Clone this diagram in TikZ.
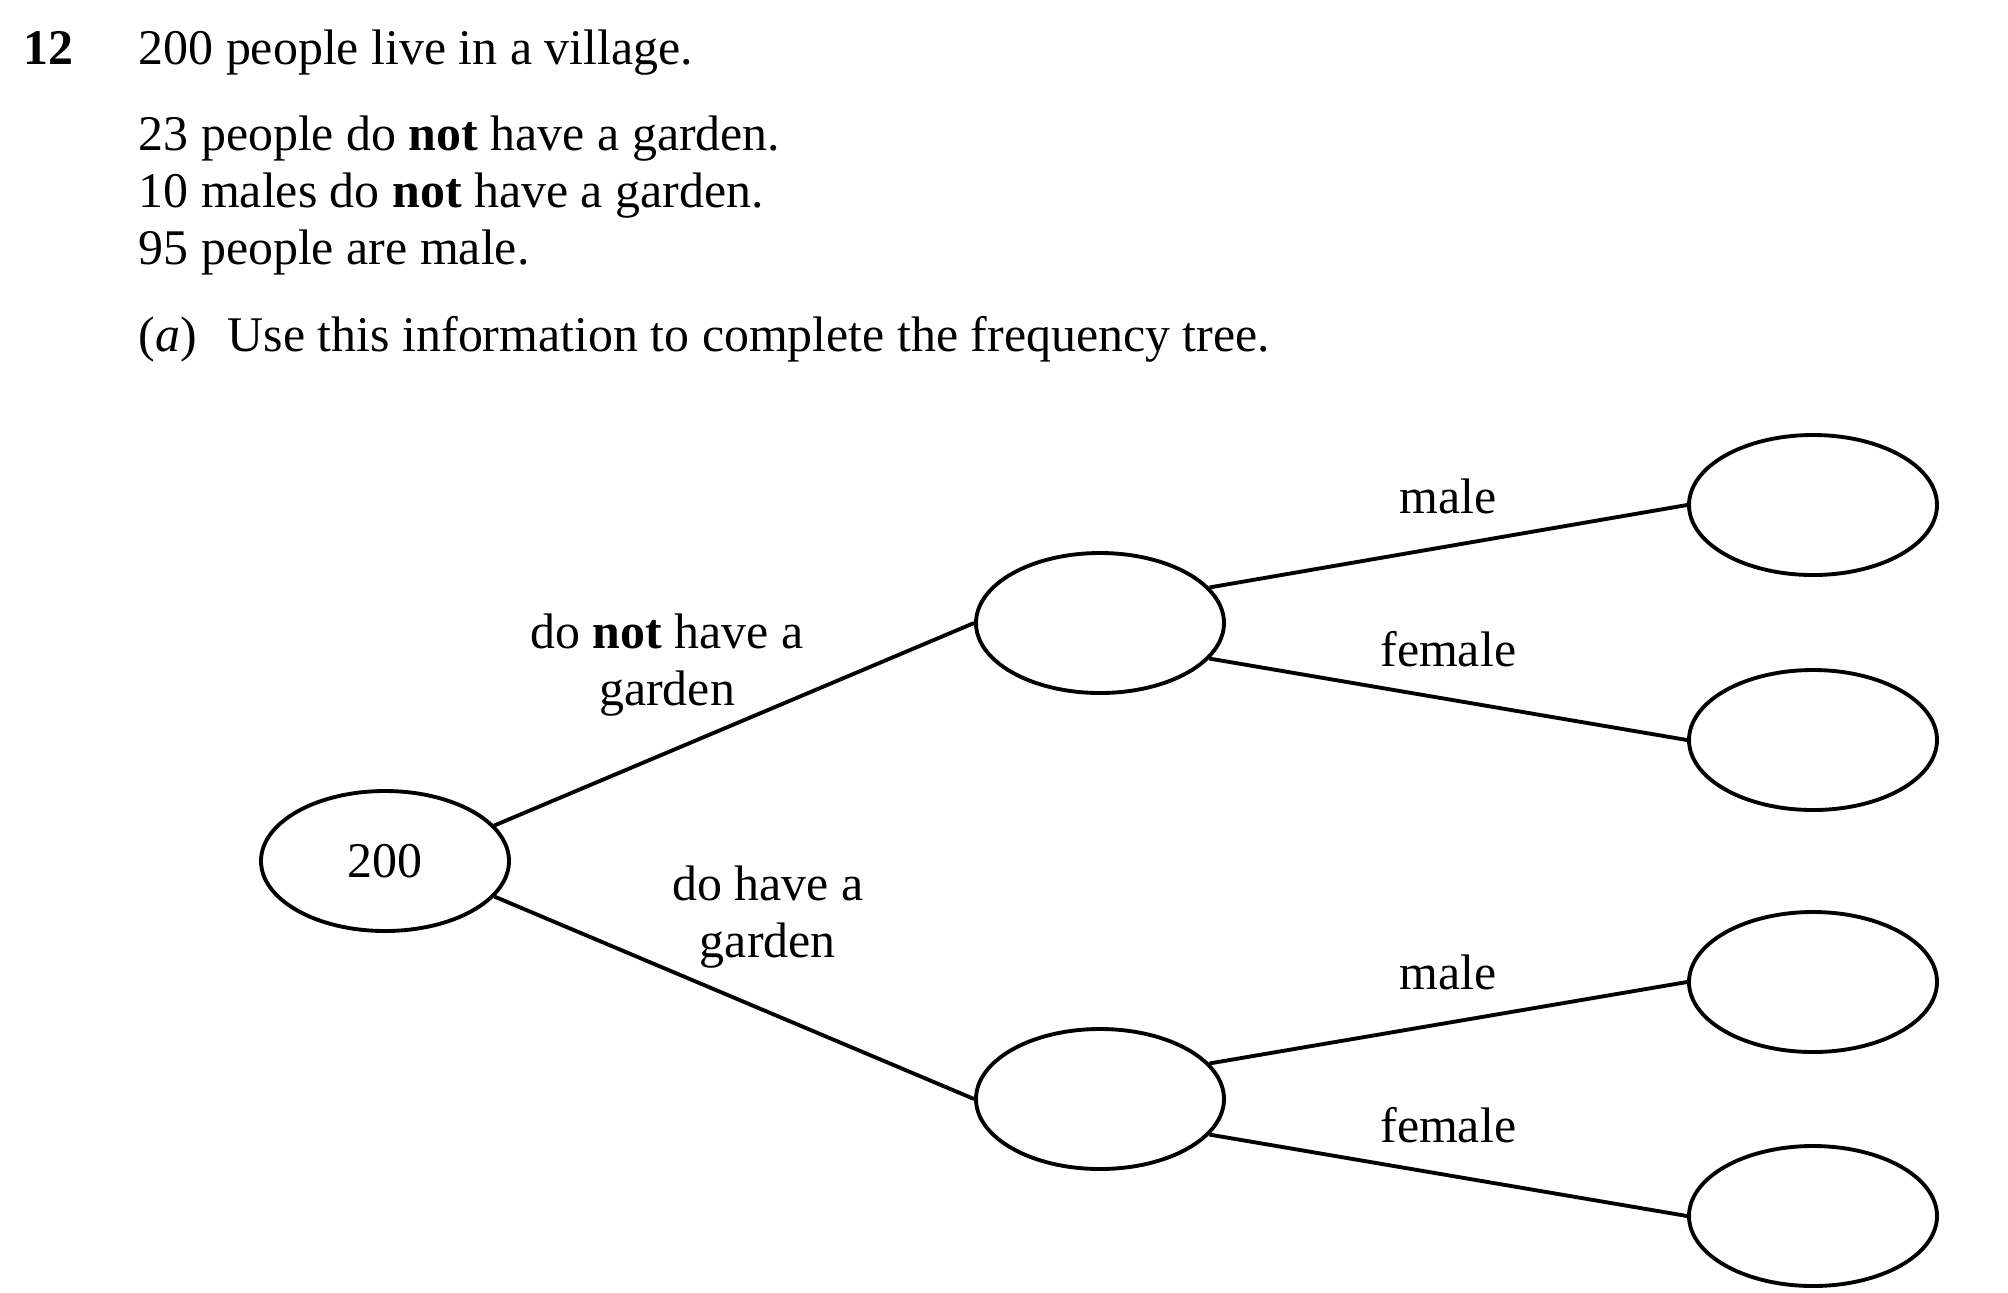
\documentclass[tikz,border=0pt]{standalone}
\usepackage{fontspec}
\setmainfont{Liberation Serif}
\usetikzlibrary{positioning,shapes.geometric}
\tikzset{
  oval/.style={draw,ellipse,line width=1.1pt,minimum width=2.48cm,minimum height=1.40cm},
  branch/.style={line width=1.1pt},
  line/.style={anchor=base west,inner sep=0pt}
}
\begin{document}
\fontsize{14.2}{16.2}\selectfont
\begin{tikzpicture}
      \useasboundingbox (0,0) rectangle (20.08,-12.92);
      %% Question text
      \node[line] (num) at (0.23,-0.64) {\textbf{12}};
      \node[line] (t1) at (1.38,-0.64) {200 people live in a village.};
      \node[line] (t2) at (1.38,-1.50) {23 people do \textbf{not} have a garden.};
      \node[line] (t3) at (1.38,-2.07) {10 males do \textbf{not} have a garden.};
      \node[line] (t4) at (1.38,-2.64) {95 people are male.};
      \node[line] (t5) at (1.38,-3.51) {(\textit{a})\hspace{0.31cm}Use this information to complete the frequency tree.};
      %% Tree nodes
      \node[oval] (root) at (3.85,-8.61) {200};
      \node[oval,right of=root,xshift=6.15cm,yshift=2.38cm] (nog) {};
      \node[oval,right of=root,xshift=6.15cm,yshift=-2.38cm] (g) {};
      \node[oval,right of=nog,xshift=6.13cm,yshift=1.18cm] (nogm) {};
      \node[oval,right of=nog,xshift=6.13cm,yshift=-1.17cm] (nogf) {};
      \node[oval,right of=g,xshift=6.13cm,yshift=1.17cm] (gm) {};
      \node[oval,right of=g,xshift=6.13cm,yshift=-1.17cm] (gf) {};
      %% First branches
      \draw[branch] (root.18) -- node[pos=0.36,above=0.18cm,align=center] {do \textbf{not} have a\\garden} (nog.west);
      \draw[branch] (root.-18) -- node[pos=0.57,above=0.25cm,align=center] {do have a\\garden} (g.west);
      %% Second branches
      \draw[branch] (nog.18) -- node[above=0.14cm] {male} (nogm.west);
      \draw[branch] (nog.-18) -- node[above=0.14cm] {female} (nogf.west);
      \draw[branch] (g.18) -- node[above=0.14cm] {male} (gm.west);
      \draw[branch] (g.-18) -- node[above=0.14cm] {female} (gf.west);
\end{tikzpicture}
\end{document}
